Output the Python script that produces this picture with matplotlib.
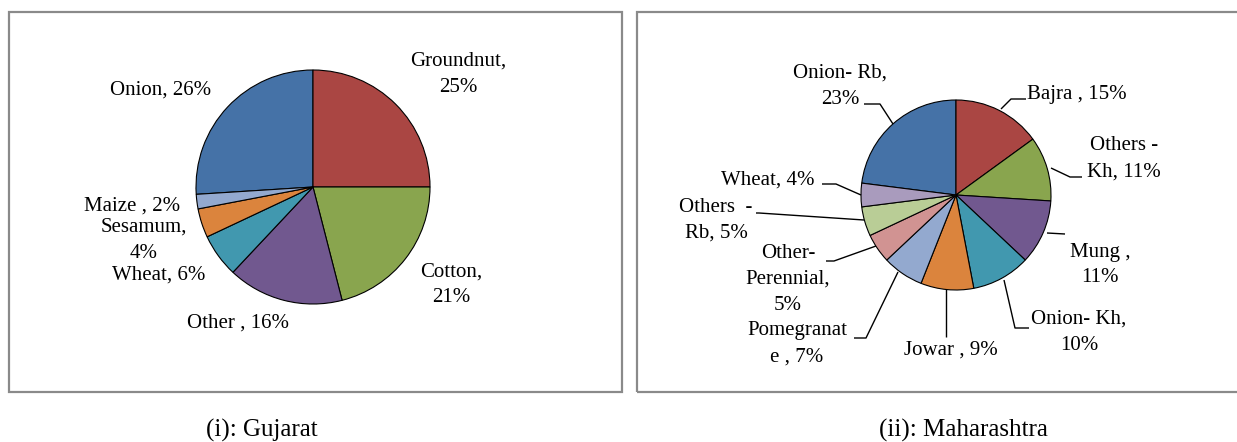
import matplotlib
matplotlib.use("Agg")

import matplotlib.pyplot as plt
from matplotlib.patches import Rectangle

plt.rcParams["font.family"] = ["Liberation Serif", "DejaVu Serif"]

# ============ data ============
guj_labels = ["Onion", "Groundnut", "Cotton", "Other", "Wheat", "Sesamum", "Maize"]
guj_values = [26, 25, 21, 16, 6, 4, 2]

mah_labels = ["Onion- Rb", "Bajra", "Others - Kh", "Mung", "Onion- Kh", "Jowar",
              "Pomegranate", "Other-Perennial", "Others - Rb", "Wheat"]
mah_values = [23, 15, 11, 11, 10, 9, 7, 5, 5, 4]

palette = ["#4572A7", "#AA4643", "#89A54E", "#71588F", "#4198AF", "#DB843D",
           "#93A9CF", "#D19392", "#B9CD96", "#A99BBD"]

W, H = 1237, 442
fig = plt.figure(figsize=(W / 100, H / 100), dpi=100)
ax = fig.add_axes([0, 0, 1, 1])


def Y(y):
    return H - y


def draw_pie(values, center, radius):
    start = 90 + values[0] / sum(values) * 360
    wedges, _ = ax.pie(values, colors=palette[:len(values)], startangle=start,
                       counterclock=False, center=(center[0], Y(center[1])),
                       radius=radius,
                       wedgeprops={"edgecolor": "black", "linewidth": 0.8})
    return wedges


# boxes
for x0, x1 in [(9, 622), (637, 1245)]:
    ax.add_patch(Rectangle((x0, Y(392)), x1 - x0, 380, fill=False,
                           edgecolor="#8a8a8a", linewidth=1.6, zorder=0))

# ---- (i) Gujarat ----
draw_pie(guj_values, (313, 187), 117)
fs = 15
ls = 1.5
guj_pos = {
    "Onion": (161, 90, "Onion, 26%"),
    "Groundnut": (458, 74, "Groundnut,\n25%"),
    "Cotton": (451, 285, "Cotton,\n21%"),
    "Other": (238, 323, "Other , 16%"),
    "Wheat": (159, 275, "Wheat, 6%"),
    "Sesamum": (144, 240, "Sesamum,\n4%"),
    "Maize": (132, 206, "Maize , 2%"),
}
for name in guj_labels:
    x, y, txt = guj_pos[name]
    ax.text(x, Y(y), txt, ha="center", va="center", fontsize=fs,
            linespacing=ls)

# ---- (ii) Maharashtra ----
draw_pie(mah_values, (956, 195), 95)
mah_pos = {
    "Onion- Rb": (840, 86, "Onion- Rb,\n23%",
                  [(893, 124), (880, 104), (864, 104)]),
    "Bajra": (1077, 95, "Bajra , 15%",
              [(1001, 109), (1011, 99), (1026, 99)]),
    "Others - Kh": (1124, 159, "Others -\nKh, 11%",
                    [(1051, 168), (1070, 177), (1082, 177)]),
    "Mung": (1100, 265, "Mung ,\n11%",
             [(1047, 233), (1065, 234)]),
    "Onion- Kh": (1079, 332, "Onion- Kh,\n10%",
                  [(1004, 280), (1015, 328), (1029, 328)]),
    "Jowar": (951, 350, "Jowar , 9%",
              [(946, 289), (946, 337)]),
    "Pomegranate": (797, 344, "Pomegranat\ne , 7%",
                    [(898, 272), (866, 338), (854, 338)]),
    "Other-Perennial": (788, 279, "Other-\nPerennial,\n5%",
                        [(876, 246), (834, 261), (826, 261)]),
    "Others - Rb": (716, 220, "Others  -\nRb, 5%",
                    [(864, 220), (759, 213), (756, 213)]),
    "Wheat": (768, 180, "Wheat, 4%",
              [(861, 195), (836, 184), (822, 184)]),
}
for name in mah_labels:
    x, y, txt, pts = mah_pos[name]
    ax.text(x, Y(y), txt, ha="center", va="center", fontsize=fs,
            linespacing=ls)
    ax.plot([p[0] for p in pts], [Y(p[1]) for p in pts], color="black",
            linewidth=1.0, solid_capstyle="butt")

# captions
ax.text(262, Y(430), "(i): Gujarat", ha="center", va="center", fontsize=18)
ax.text(963, Y(430), "(ii): Maharashtra", ha="center", va="center", fontsize=18)

ax.set_xlim(0, W)
ax.set_ylim(0, H)
ax.set_aspect("auto")
ax.axis("off")

fig.savefig("out.png", dpi=100)
